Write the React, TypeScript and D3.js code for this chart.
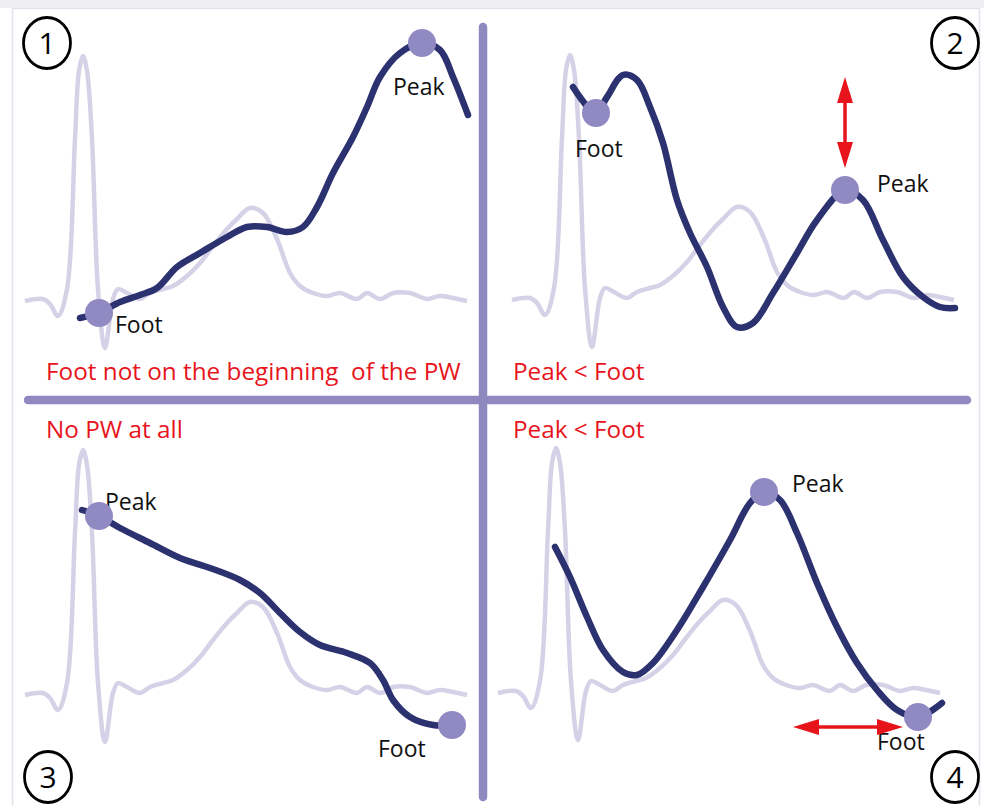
import * as d3 from "d3";
import * as React from "react";

// background ECG template (ms, mV) shared by the four panels
const ecgTime = [0, 36, 50, 66, 84, 100, 108, 116, 124, 134, 146, 160, 176, 186, 204, 230, 250, 276, 296, 324, 350, 376, 404, 424, 450, 476, 504, 530, 550, 576, 604, 630, 664, 684, 710, 736, 770, 804, 830, 856, 884];
const ecgAmp = [0, 0.01, -0.015, -0.075, 0.06, 0.81, 1.15, 1.225, 1.15, 0.81, 0.06, -0.235, 0.01, 0.06, 0.04, 0.01, 0.04, 0.06, 0.075, 0.125, 0.19, 0.275, 0.36, 0.41, 0.465, 0.44, 0.31, 0.14, 0.075, 0.04, 0.025, 0.04, 0.01, 0.04, 0.01, 0.04, 0.04, 0.01, 0.025, 0.015, 0];

// pulse wave of each case
const pw1Time = [110, 148, 190, 230, 264, 304, 350, 404, 444, 484, 524, 556, 584, 616, 656, 684, 710, 750, 794, 830, 856, 886];
const pw1Amp = [-0.085, -0.06, -0.005, 0.03, 0.065, 0.17, 0.24, 0.32, 0.37, 0.37, 0.345, 0.37, 0.47, 0.64, 0.82, 0.97, 1.12, 1.24, 1.29, 1.255, 1.12, 0.93];

const pw2Time = [122, 168, 190, 222, 250, 276, 302, 330, 356, 390, 422, 450, 482, 522, 570, 610, 666, 702, 742, 782, 822, 856, 886];
const pw2Amp = [1.065, 0.935, 1.015, 1.125, 1.1, 0.965, 0.785, 0.5, 0.335, 0.165, -0.035, -0.135, -0.115, 0.035, 0.235, 0.4, 0.55, 0.5, 0.3, 0.115, 0.015, -0.035, -0.04];

const pw3Time = [114, 148, 190, 250, 310, 370, 430, 470, 510, 550, 590, 644, 690, 716, 736, 770, 816, 854];
const pw3Amp = [0.925, 0.895, 0.835, 0.76, 0.685, 0.635, 0.575, 0.51, 0.41, 0.315, 0.25, 0.21, 0.16, 0.075, -0.025, -0.11, -0.15, -0.15];

const pw4Time = [114, 144, 178, 210, 250, 278, 310, 358, 410, 464, 504, 532, 564, 598, 638, 678, 718, 758, 798, 840, 888];
const pw4Amp = [0.73, 0.58, 0.38, 0.215, 0.105, 0.09, 0.15, 0.315, 0.53, 0.765, 0.95, 1.005, 0.965, 0.8, 0.55, 0.33, 0.15, 0.015, -0.085, -0.12, -0.05];

// detected points: [label, time, amplitude]
const marks1: [string, number, number][] = [["Foot", 148, -0.06], ["Peak", 794, 1.29]];
const marks2: [string, number, number][] = [["Foot", 168, 0.935], ["Peak", 666, 0.55]];
const marks3: [string, number, number][] = [["Peak", 148, 0.895], ["Foot", 854, -0.15]];
const marks4: [string, number, number][] = [["Peak", 532, 1.005], ["Foot", 840, -0.12]];

// red arrows: [[t0, a0], [t1, a1]]
const arrow2 = [[666, 1.115], [666, 0.66]];
const arrow4 = [[590, -0.17], [810, -0.17]];

const captions = ["Foot not on the beginning  of the PW", "Peak < Foot", "No PW at all", "Peak < Foot"];
const panelNumbers = ["1", "2", "3", "4"];

const NAVY = "#2c3170";
const DOT = "#9189c2";
const ECG = "#d5d2e7";
const RULE = "#8f89c0";
const RED = "#e8141c";
const FONT = "'Open Sans', sans-serif";

const panels = [
    { time: pw1Time, amp: pw1Amp, marks: marks1, arrow: null as number[][] | null, origin: [25, 301],
      labelOffsets: [[16, 20], [-29, 52]], caption: [46, 380], number: [47, 43] },
    { time: pw2Time, amp: pw2Amp, marks: marks2, arrow: arrow2, origin: [512, 300],
      labelOffsets: [[-21, 44], [32, 2]], caption: [513, 380], number: [955, 43] },
    { time: pw3Time, amp: pw3Amp, marks: marks3, arrow: null, origin: [25, 695],
      labelOffsets: [[6, -6], [-74, 32]], caption: [46, 438], number: [48, 777] },
    { time: pw4Time, amp: pw4Amp, marks: marks4, arrow: arrow4, origin: [498, 693],
      labelOffsets: [[28, 0], [-41, 33]], caption: [513, 438], number: [955, 777] },
];

export default class App extends React.Component<{}, {}> {
    mountRef: SVGSVGElement;

    componentDidMount() {
        const width = 984, height = 806;
        const svg = d3.select(this.mountRef);

        const x = d3.scaleLinear().domain([0, 884]).range([0, 442]);
        const y = d3.scaleLinear().domain([0, 1]).range([0, -200]);

        const line = d3.line<[number, number]>()
            .x(d => x(d[0]))
            .y(d => y(d[1]))
            .curve(d3.curveCatmullRom.alpha(0.5));

        // frame
        svg.append("rect").attr("x", 0).attr("y", 0).attr("width", width).attr("height", height).attr("fill", "#fff");
        svg.append("rect").attr("x", 0).attr("y", 0).attr("width", width).attr("height", 8).attr("fill", "#efeff1");
        svg.append("path")
            .attr("d", `M12.5,${height} V8.5 H979.5 V${height}`)
            .attr("fill", "none").attr("stroke", "#e3e1ec").attr("stroke-width", 1.5);

        const ecg = d3.zip(ecgTime, ecgAmp) as [number, number][];

        const panel = svg.append("g")
            .selectAll("g")
            .data(panels)
            .join("g")
            .attr("transform", p => `translate(${p.origin[0]},${p.origin[1]})`);

        panel.append("path")
            .attr("d", line(ecg))
            .attr("fill", "none")
            .attr("stroke", ECG)
            .attr("stroke-width", 4.5)
            .attr("stroke-linejoin", "round");

        // dividers
        svg.append("line").attr("x1", 483).attr("x2", 483).attr("y1", 27).attr("y2", 797)
            .attr("stroke", RULE).attr("stroke-width", 8.5).attr("stroke-linecap", "round");
        svg.append("line").attr("x1", 28).attr("x2", 967).attr("y1", 400).attr("y2", 400)
            .attr("stroke", RULE).attr("stroke-width", 8.5).attr("stroke-linecap", "round");

        panel.append("path")
            .attr("d", p => line(d3.zip(p.time, p.amp) as [number, number][]))
            .attr("fill", "none")
            .attr("stroke", NAVY)
            .attr("stroke-width", 6.5)
            .attr("stroke-linecap", "round")
            .attr("stroke-linejoin", "round");

        panel.each(function (p) {
            const g = d3.select(this);
            p.marks.forEach((m, i) => {
                g.append("text")
                    .attr("x", x(m[1]) + p.labelOffsets[i][0])
                    .attr("y", y(m[2]) + p.labelOffsets[i][1])
                    .attr("font-family", FONT)
                    .attr("font-size", 23)
                    .attr("fill", "#111")
                    .text(m[0]);
            });
            g.selectAll("circle.mark")
                .data(p.marks)
                .join("circle")
                .attr("class", "mark")
                .attr("cx", m => x(m[1]))
                .attr("cy", m => y(m[2]))
                .attr("r", 14)
                .attr("fill", DOT);

            if (p.arrow) {
                const [x0, y0] = [x(p.arrow[0][0]), y(p.arrow[0][1])];
                const [x1, y1] = [x(p.arrow[1][0]), y(p.arrow[1][1])];
                const len = Math.hypot(x1 - x0, y1 - y0);
                const ux = (x1 - x0) / len, uy = (y1 - y0) / len;
                const head = 26, half = 8;
                g.append("line")
                    .attr("x1", x0 + ux * 10).attr("y1", y0 + uy * 10)
                    .attr("x2", x1 - ux * 10).attr("y2", y1 - uy * 10)
                    .attr("stroke", RED).attr("stroke-width", 3.5);
                [[x0, y0, 1], [x1, y1, -1]].forEach(([tx, ty, s]) => {
                    const bx = tx + s * ux * head, by = ty + s * uy * head;
                    g.append("path")
                        .attr("d", `M${tx},${ty} L${bx - uy * half},${by + ux * half} L${bx + uy * half},${by - ux * half} Z`)
                        .attr("fill", RED);
                });
            }
        });

        // captions
        svg.append("g")
            .selectAll("text")
            .data(panels)
            .join("text")
            .attr("x", p => p.caption[0])
            .attr("y", p => p.caption[1])
            .attr("font-family", FONT)
            .attr("font-size", 24.3)
            .attr("fill", RED)
            .style("white-space", "pre")
            .text((p, i) => captions[i]);

        // panel numbers
        const num = svg.append("g")
            .selectAll("g")
            .data(panels)
            .join("g")
            .attr("transform", p => `translate(${p.number[0]},${p.number[1]})`);
        num.append("ellipse")
            .attr("rx", 23.5).attr("ry", 25.5)
            .attr("fill", "none").attr("stroke", "#000").attr("stroke-width", 2.8);
        num.append("text")
            .attr("text-anchor", "middle")
            .attr("dy", "0.36em")
            .attr("font-family", FONT)
            .attr("font-size", 30)
            .attr("fill", "#000")
            .text((p, i) => panelNumbers[i]);
    }

    render() {
        return (
            <svg
                ref={ref => { this.mountRef = ref!; }}
                width={984}
                height={806}
                style={{ position: "absolute", left: 0, top: 0, display: "block" }}
            />
        );
    }
}
